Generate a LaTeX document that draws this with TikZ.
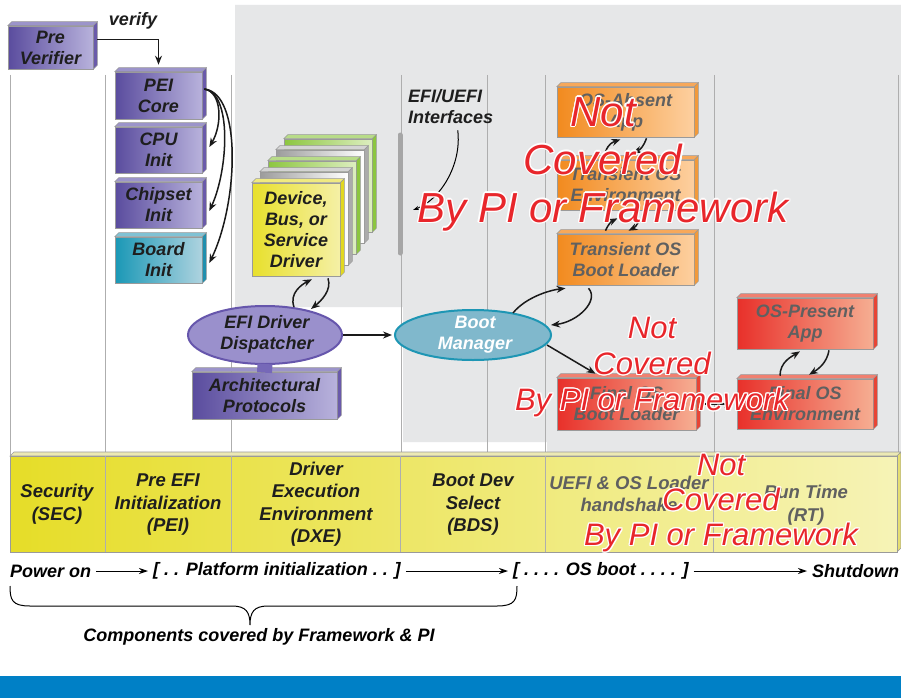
\documentclass[tikz,border=0pt]{standalone}
\usepackage{fontspec}
\setmainfont{Liberation Sans}
\usetikzlibrary{arrows.meta,shapes.geometric}
\definecolor{bggray}{HTML}{E6E7E8}
\definecolor{vgray}{HTML}{AEAEAE}
\definecolor{edgegray}{HTML}{9A9A9A}
\definecolor{boxtxt}{HTML}{1E1E1E}
\definecolor{txtgray}{HTML}{606060}
\definecolor{arrblack}{HTML}{1A1A1A}
\definecolor{pL}{HTML}{5A4C9E}
\definecolor{pR}{HTML}{B8B2DC}
\definecolor{pTop}{HTML}{9C94CA}
\definecolor{pSide}{HTML}{6A5AAA}
\definecolor{tL}{HTML}{1A98B6}
\definecolor{tR}{HTML}{AED3DF}
\definecolor{tTop}{HTML}{80C2D4}
\definecolor{tSide}{HTML}{1F8FAE}
\definecolor{oL}{HTML}{F28A1E}
\definecolor{oR}{HTML}{FDD0A0}
\definecolor{oTop}{HTML}{F7A85A}
\definecolor{oSide}{HTML}{F29A3A}
\definecolor{rL}{HTML}{E8302A}
\definecolor{rR}{HTML}{F6AE92}
\definecolor{rTop}{HTML}{F08070}
\definecolor{rSide}{HTML}{E84434}
\definecolor{yL}{HTML}{E8E02C}
\definecolor{yR}{HTML}{F5F0A6}
\definecolor{yTop}{HTML}{F0EA80}
\definecolor{ySide}{HTML}{E2D820}
\definecolor{gL}{HTML}{8CC63F}
\definecolor{gR}{HTML}{DDEEC0}
\definecolor{gTop}{HTML}{B8DC88}
\definecolor{gSide}{HTML}{8CC63F}
\definecolor{sL}{HTML}{9C9C9C}
\definecolor{sR}{HTML}{FFFFFF}
\definecolor{sTop}{HTML}{D4D4D4}
\definecolor{sSide}{HTML}{ABABAB}
\definecolor{dispF}{HTML}{9A90CC}
\definecolor{dispB}{HTML}{6656AC}
\definecolor{bmF}{HTML}{80B8CC}
\definecolor{bmB}{HTML}{1E96B4}
\definecolor{stemcol}{HTML}{7668B8}
\definecolor{barcol}{HTML}{A6A6A6}
\definecolor{redtxt}{HTML}{E8262B}
\definecolor{bandL}{HTML}{E6DD28}
\definecolor{bandR}{HTML}{F6F3B6}
\definecolor{bandTop}{HTML}{ECE9B4}
\definecolor{bandSide}{HTML}{E6DE70}
\definecolor{bluebar}{HTML}{0080C6}

\newcommand\tdbox[8]{%
  \node[tdface, minimum width=#4pt, minimum height=#5pt, left color=#6L, right color=#6R, #7] (#1) at (#2,#3) {#8};
  \filldraw[fill=#6Top, draw=edgegray, line width=0.5pt] (#1.north west) -- ++(4,-4) -- ([shift={(4pt,4pt)}]#1.north east) -- (#1.north east) -- cycle;
  \filldraw[fill=#6Side, draw=edgegray, line width=0.5pt] (#1.north east) -- ++(4,-4) -- ([shift={(4pt,4pt)}]#1.south east) -- (#1.south east) -- cycle;
}
\newcommand\notcov[5]{%
  \foreach \a in {0,30,...,330}{%
    \begin{scope}[shift={(\a:1.2pt)}]
      \node[nctxt, text=white, font=\itshape\fontsize{#4}{#5}\selectfont] at (#2,#3) {Not\\Covered\\By PI or Framework};
    \end{scope}}
  \node[nctxt, text=redtxt, font=\itshape\fontsize{#4}{#5}\selectfont] (#1) at (#2,#3) {Not\\Covered\\By PI or Framework};
}

\begin{document}
\begin{tikzpicture}[x=1pt,y=-1pt,
  tdface/.style={draw=edgegray, line width=0.6pt, inner sep=0pt, align=center, text=boxtxt, font=\bfseries\itshape\fontsize{18}{21}\selectfont},
  lbl/.style={inner sep=1pt, align=center, text=boxtxt, font=\bfseries\itshape\fontsize{18}{21}\selectfont},
  bandtxt/.style={inner sep=0pt, align=center, text=boxtxt, font=\bfseries\itshape\fontsize{18.5}{22.5}\selectfont},
  tl/.style={inner sep=5pt, text=black, font=\bfseries\itshape\fontsize{18}{21}\selectfont},
  arr/.style={line width=1.5pt, draw=arrblack, -{Stealth[length=9pt,width=7pt]}},
  thinarr/.style={line width=1pt, draw=black, -{Stealth[length=9pt,width=6pt]}},
  nctxt/.style={inner sep=0pt, align=center},
  vline/.style={draw=vgray, line width=0.8pt}]
\useasboundingbox (0,0) rectangle (901,698);
\fill[white] (0,0) rectangle (901,698);
% gray background region
\fill[bggray] (235,5) -- (901,5) -- (901,455) -- (547,455) -- (547,442) -- (403,442) -- (403,307) -- (235,307) -- cycle;
% column lines
\foreach \x in {10,105,231,401,487,545,714,898} \draw[vline] (\x,75) -- (\x,455);
% phase band
\filldraw[fill=bandTop, draw=edgegray, line width=0.6pt] (10,456) -- (14,452) -- (901,452) -- (897,456) -- cycle;
\filldraw[fill=bandSide, draw=edgegray, line width=0.6pt] (897,456) -- (901,452) -- (901,548) -- (897,552) -- cycle;
\path[left color=bandL, right color=bandR, draw=edgegray, line width=0.6pt] (10,456) rectangle (897,552);
\foreach \x in {105,231,400,545,713} \draw[vline] (\x,456) -- (\x,552);
\node[bandtxt] (sec) at (57,504) {Security\\(SEC)};
\node[bandtxt] (pei) at (168,505) {Pre EFI\\Initialization\\(PEI)};
\node[bandtxt] (dxe) at (316,504) {Driver\\Execution\\Environment\\(DXE)};
\node[bandtxt] (bds) at (473,505) {Boot Dev\\Select\\(BDS)};
\node[bandtxt, text=txtgray] (tsl) at (629,494) {UEFI \& OS Loader\\handshake};
\node[bandtxt, text=txtgray] (rt) at (806,505) {Run Time\\(RT)};

% SEC / PEI boxes
\tdbox{prever}{50.5}{47.5}{85}{43}{p}{}{Pre\\Verifier}
\tdbox{peicore}{158.5}{95.5}{87}{47}{p}{}{PEI\\Core}
\tdbox{cpuinit}{158.5}{150}{87}{46}{p}{}{CPU\\Init}
\tdbox{chipinit}{158.5}{205}{87}{46}{p}{}{Chipset\\Init}
\tdbox{boardinit}{158.5}{260}{87}{46}{t}{}{Board\\Init}
\node[lbl] (verifylbl) at (133,21) {verify};
\draw[arr] ([shift={(4pt,8pt)}]prever.east) -| ([yshift=7pt]peicore.north);
\draw[arr] ([shift={(2pt,6.5pt)}]peicore.east) .. controls +(18,3) and +(13,-22) .. ([shift={(7pt,3pt)}]cpuinit.east);
\draw[arr] ([shift={(2pt,6.5pt)}]peicore.east) .. controls +(28,4) and +(19,-41) .. ([shift={(7pt,-6pt)}]chipinit.east);
\draw[arr] ([shift={(2pt,6.5pt)}]peicore.east) .. controls +(38,4) and +(29,-60) .. ([shift={(7pt,-3pt)}]boardinit.east);

% DXE
\tdbox{drvd}{328}{185.5}{88}{93}{g}{}{}
\tdbox{drvc}{320}{196.5}{88}{93}{s}{}{}
\tdbox{drvb}{312}{207.5}{88}{93}{g}{}{}
\tdbox{drva}{304}{218.5}{88}{93}{s}{}{}
\tdbox{driver}{296}{229.5}{88}{93}{y}{}{Device,\\Bus, or\\Service\\Driver}
\tdbox{arch}{264.5}{395.5}{145}{47}{p}{}{Architectural\\Protocols}
\node[ellipse, draw=dispB, line width=2pt, fill=dispF, minimum width=154pt, minimum height=58pt, inner sep=0pt] (dispatcher) at (265,335) {};
\draw[stemcol, line width=15pt] ([yshift=1pt]dispatcher.south) -- ([yshift=-1pt]arch.north);
\node[lbl] (disptxt) at (267,334) {EFI Driver\\Dispatcher};
\draw[arr] ([shift={(29pt,28pt)}]dispatcher.center) .. controls +(-5,-14) and +(-10,5) .. ([shift={(16pt,-3pt)}]driver.south);
\draw[arr] ([shift={(32pt,-2pt)}]driver.south) .. controls +(4,12) and +(10,-8) .. ([shift={(46pt,26pt)}]dispatcher.center);

% BDS
\node[ellipse, draw=bmB, line width=2pt, fill=bmF, minimum width=156pt, minimum height=50pt, inner sep=0pt] (bootmgr) at (473,335) {};
\node[lbl, text=white] (bmtxt) at (475,335) {Boot\\Manager};
\draw[arr, shorten >=2pt] (dispatcher.east) -- (bootmgr.west);
\draw[barcol, line width=5pt, line cap=round] (400,135) -- (400,253);
\node[lbl, anchor=west, align=left] (efitxt) at (407,107) {EFI/UEFI\\Interfaces};
\coordinate (efiend) at (413,210);
\draw[line width=1pt, -{Stealth[length=6pt,width=4pt]}] ([shift={(7pt,-5pt)}]efitxt.south) .. controls (462,165) and (440,200) .. (efiend);

% TSL / RT boxes
\tdbox{osabsent}{625.5}{112}{137}{50}{o}{text=txtgray}{OS-Absent\\App}
\tdbox{transenv}{625.5}{185}{137}{50}{o}{text=txtgray}{Transient OS\\Environment}
\tdbox{transldr}{625.5}{259.5}{137}{51}{o}{text=txtgray}{Transient OS\\Boot Loader}
\tdbox{finalldr}{626.5}{404}{139}{52}{r}{text=txtgray}{Final OS\\Boot Loader}
\tdbox{ospresent}{805}{323.5}{136}{51}{r}{text=txtgray}{OS-Present\\App}
\tdbox{finalenv}{805}{404}{136}{50}{r}{text=txtgray}{Final OS\\Environment}

\draw[arr] ([shift={(-20pt,8pt)}]transenv.north) .. controls +(3,-8) and +(-8,3) .. ([shift={(-5pt,-2pt)}]osabsent.south);
\draw[arr] ([shift={(21pt,-1pt)}]osabsent.south) .. controls +(-3,8) and +(8,-3) .. ([shift={(7pt,7pt)}]transenv.north);
\draw[arr] ([shift={(-20pt,3pt)}]transldr.north) .. controls +(3,-7) and +(-6,3) .. ([shift={(-8pt,-8pt)}]transenv.south);
\draw[arr] ([shift={(14pt,-9pt)}]transenv.south) .. controls +(-3,7) and +(6,-3) .. ([shift={(3pt,3pt)}]transldr.north);
\draw[arr] ([shift={(40pt,22pt)}]bootmgr.center) .. controls +(12,-15) and +(-17,2) .. ([shift={(-60pt,-3pt)}]transldr.south);
\draw[arr] ([shift={(-37pt,-3pt)}]transldr.south) .. controls +(11,12) and +(27,-3) .. ([shift={(78pt,10pt)}]bootmgr.center);
\draw[arr] ([shift={(74pt,-10pt)}]bootmgr.center) -- ([shift={(-31pt,4pt)}]finalldr.north);
\draw[arr, shorten >=3pt] ([xshift=4pt]finalldr.east) -- (finalenv.west);
\draw[arr] ([shift={(-25pt,3pt)}]finalenv.north) .. controls +(0,-14) and +(-8,5) .. ([shift={(-5pt,-2pt)}]ospresent.south);
\draw[arr] ([shift={(24pt,-1pt)}]ospresent.south) .. controls +(-2,12) and +(10,-6) .. ([shift={(4pt,4pt)}]finalenv.north);

% timeline
\node[tl, anchor=west] (pon) at (5,571) {Power on};
\node[tl, anchor=west] (pfi) at (148,571) {[ .\ . Platform initialization .\ . ]};
\node[tl, anchor=west] (osb) at (508,571) {[ .\ .\ .\ . OS boot .\ .\ .\ . ]};
\node[tl, anchor=west] (shd) at (807,571) {Shutdown};
\draw[thinarr] (pon) -- (pfi);
\draw[thinarr] (pfi) -- (osb);
\draw[thinarr] (osb) -- (shd);
\draw[line width=1pt] (10,586) .. controls (10,600) and (12,606) .. (30,606) -- (232,606) .. controls (246,606) and (250,612) .. (250,625) .. controls (250,612) and (254,606) .. (268,606) -- (497,606) .. controls (515,606) and (517,600) .. (517,586);
\node[tl] (comp) at (259,637) {Components covered by Framework \& PI};
\fill[bluebar] (0,676) rectangle (901,698);

% overlays
\notcov{ncA}{603}{164}{42}{48}
\notcov{ncB}{652}{367}{31}{36}
\notcov{ncC}{721}{503}{31}{35}
\end{tikzpicture}
\end{document}
